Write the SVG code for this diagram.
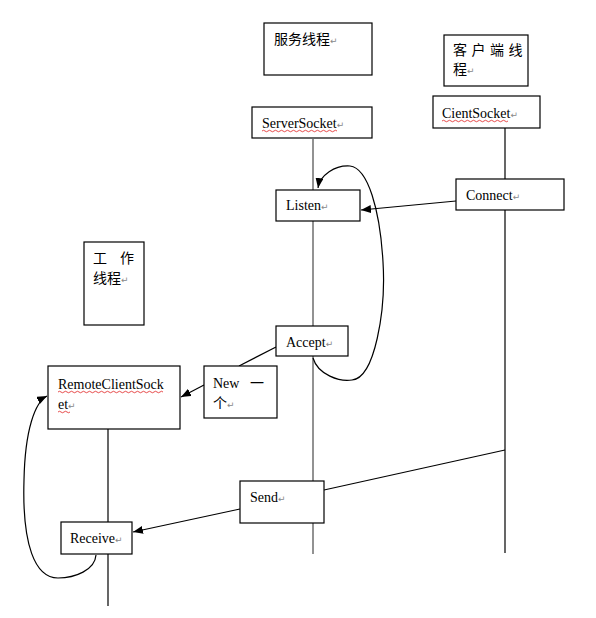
<svg xmlns="http://www.w3.org/2000/svg" width="596" height="618" viewBox="0 0 596 618">
<defs>
<marker id="ah" viewBox="0 0 10 8" refX="10" refY="4" markerWidth="10" markerHeight="8" markerUnits="userSpaceOnUse" orient="auto">
<path d="M0,0 L10,4 L0,8 Z" fill="#000"/>
</marker>
<style>
.box{fill:#fff;stroke:#000;stroke-width:1.2}
.en{font-family:"Liberation Serif","Times New Roman",serif;font-size:14px;fill:#000}
.zh{font-family:"Noto Sans CJK SC","Noto Sans",sans-serif;font-size:14px;fill:#000}
.pm{font-family:"DejaVu Sans",sans-serif;font-size:9px;fill:#888}
.life{stroke:#000;stroke-width:1.2;fill:none}
.lifeg{stroke:#777;stroke-width:1.6;fill:none}
.con{stroke:#000;stroke-width:1.2;fill:none}
.sq{stroke:#e02020;stroke-width:0.8;fill:none}
</style>
</defs>
<rect width="596" height="618" fill="#fff"/>
<g id="lifelines">
<line class="lifeg" x1="313" y1="139" x2="313" y2="554"/>
<line class="life" x1="505" y1="128" x2="505" y2="553"/>
<line class="life" x1="108" y1="429" x2="108" y2="606"/>
</g>
<g id="connectors">
<path class="con" d="M456,201 L361,210" marker-end="url(#ah)"/>
<path class="con" d="M313,358 C318,375 340,382 352,380 C375,378 386,310 383,262 C380,210 368,168 350,166 C335,165 320,175 318,188" marker-end="url(#ah)"/>
<path class="con" d="M276,347 L239,366"/>
<path class="con" d="M204,385 L181,397" marker-end="url(#ah)"/>
<path class="con" d="M505,450 L324,490"/>
<path class="con" d="M240,509 L133,532" marker-end="url(#ah)"/>
<path class="con" d="M96,555 C95,570 75,578 58,578 C35,578 22,545 24,480 C25,430 35,402 47,396" marker-end="url(#ah)"/>
</g>
<g id="n-server-thread">
<rect class="box" x="264" y="23" width="108" height="52"/>
<text class="zh" x="274" y="44">服务线程<tspan class="pm">↵</tspan></text>
</g>
<g id="n-client-thread">
<rect class="box" x="444" y="35" width="84" height="51"/>
<text class="zh" x="453" y="55" letter-spacing="4.5">客户端线</text>
<text class="zh" x="453" y="74">程<tspan class="pm">↵</tspan></text>
</g>
<g id="n-serversocket">
<rect class="box" x="252" y="107" width="120" height="31"/>
<text class="en" x="262" y="128">ServerSocket<tspan class="pm">↵</tspan></text>
<path class="sq" d="M262,131 q1.5,-1.5 3,0 t3,0 t3,0 t3,0 t3,0 t3,0 t3,0 t3,0 t3,0 t3,0 t3,0 t3,0 t3,0 t3,0 t3,0 t3,0 t3,0 t3,0 t3,0 t3,0 t3,0 t3,0 t3,0 t3,0 t3,0"/>
</g>
<g id="n-clientsocket">
<rect class="box" x="433" y="96" width="107" height="32"/>
<text class="en" x="442" y="118">CientSocket<tspan class="pm">↵</tspan></text>
<path class="sq" d="M442,121 q1.5,-1.5 3,0 t3,0 t3,0 t3,0 t3,0 t3,0 t3,0 t3,0 t3,0 t3,0 t3,0 t3,0 t3,0 t3,0 t3,0 t3,0 t3,0 t3,0 t3,0 t3,0 t3,0 t3,0"/>
</g>
<g id="n-listen">
<rect class="box" x="276" y="190" width="84" height="31"/>
<text class="en" x="286" y="210">Listen<tspan class="pm">↵</tspan></text>
</g>
<g id="n-connect">
<rect class="box" x="456" y="179" width="108" height="31"/>
<text class="en" x="466" y="200">Connect<tspan class="pm">↵</tspan></text>
</g>
<g id="n-worker-thread">
<rect class="box" x="84" y="242" width="60" height="83"/>
<text class="zh" x="93" y="263">工</text>
<text class="zh" x="120" y="263">作</text>
<text class="zh" x="93" y="283">线程<tspan class="pm">↵</tspan></text>
</g>
<g id="n-accept">
<rect class="box" x="276" y="326" width="72" height="30"/>
<text class="en" x="286" y="347">Accept<tspan class="pm">↵</tspan></text>
</g>
<g id="n-new">
<rect class="box" x="204" y="366" width="73" height="52"/>
<text class="en" x="213" y="388">New</text>
<text class="zh" x="250" y="388">一</text>
<text class="zh" x="213" y="408">个<tspan class="pm">↵</tspan></text>
</g>
<g id="n-remoteclientsocket">
<rect class="box" x="48" y="366" width="132" height="63"/>
<text class="en" x="58" y="389">RemoteClientSock</text>
<text class="en" x="58" y="409">et<tspan class="pm">↵</tspan></text>
<path class="sq" d="M58,392 q1.5,-1.5 3,0 t3,0 t3,0 t3,0 t3,0 t3,0 t3,0 t3,0 t3,0 t3,0 t3,0 t3,0 t3,0 t3,0 t3,0 t3,0 t3,0 t3,0 t3,0 t3,0 t3,0 t3,0 t3,0 t3,0 t3,0 t3,0 t3,0 t3,0 t3,0 t3,0 t3,0 t3,0 t3,0 t3,0 t3,0"/>
<path class="sq" d="M58,412 q1.5,-1.5 3,0 t3,0 t3,0 t3,0"/>
</g>
<g id="n-send">
<rect class="box" x="240" y="481" width="84" height="42"/>
<text class="en" x="250" y="502">Send<tspan class="pm">↵</tspan></text>
</g>
<g id="n-receive">
<rect class="box" x="61" y="522" width="71" height="32"/>
<text class="en" x="70" y="543">Receive<tspan class="pm">↵</tspan></text>
</g>
</svg>
